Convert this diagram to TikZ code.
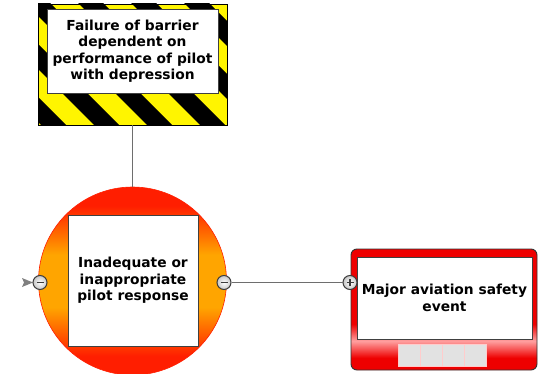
\documentclass[tikz,border=0pt]{standalone}
\usepackage{fontspec}
\setmainfont{DejaVu Sans}

\definecolor{hzyellow}{HTML}{FFF500}
\definecolor{circred}{HTML}{FF1E00}
\definecolor{circorange}{HTML}{FFA500}
\definecolor{evred}{HTML}{EE0000}
\definecolor{evpink}{HTML}{FFA0A0}
\definecolor{linegray}{HTML}{6E6E6E}
\definecolor{markergray}{HTML}{3C3C3C}
\definecolor{cellgray}{HTML}{E2E2E2}

% red frame with a pale glow just under the inner panel
\pgfdeclareverticalshading{eventshade}{100bp}{color(0bp)=(evred); color(30bp)=(evred); color(37bp)=(evpink); color(44bp)=(evred); color(100bp)=(evred)}
% red rim at top and bottom, orange band across the middle
\pgfdeclareverticalshading{threatshade}{100bp}{color(0bp)=(circred); color(30bp)=(circred); color(43bp)=(circorange); color(57bp)=(circorange); color(70bp)=(circred); color(100bp)=(circred)}

\tikzset{
  conn/.style={draw=linegray, line width=1.9pt},
  lbl/.style={font=\bfseries\fontsize{13.8}{16.5}\selectfont, align=center, text=black},
  panel/.style={rectangle, fill=white, draw=black!75, line width=0.8pt, inner sep=2pt},
  marker/.style={circle, minimum size=14pt, inner sep=0pt, draw=markergray, line width=1pt,
    inner color=white, outer color=black!22},
  minusmark/.style={marker, path picture={
    \draw[line width=1.1pt, markergray] ([xshift=-3.5pt]path picture bounding box.center) -- ([xshift=3.5pt]path picture bounding box.center);}},
  plusmark/.style={marker, path picture={
    \draw[line width=1.1pt, markergray] ([xshift=-3.5pt]path picture bounding box.center) -- ([xshift=3.5pt]path picture bounding box.center);
    \draw[line width=1.1pt, markergray] ([yshift=-3.5pt]path picture bounding box.center) -- ([yshift=3.5pt]path picture bounding box.center);}},
  cellbox/.style={rectangle, minimum width=22pt, minimum height=22pt, inner sep=0pt, fill=cellgray, draw=white!80!red, line width=0.6pt},
}

\begin{document}
\begin{tikzpicture}[x=1pt, y=-1pt]
\useasboundingbox (0,0) rectangle (538,374);

% hazard-striped barrier frame
\begin{scope}
  \clip (38,4) rectangle (227,125);
  \fill[hzyellow] (38,4) rectangle (227,125);
  \foreach \k in {-3,...,4}
    \fill[black] ({22+53*\k},0) -- ({47+53*\k},0) -- ({177+53*\k},130) -- ({152+53*\k},130) -- cycle;
\end{scope}
\node[rectangle, draw=black, line width=0.9pt, minimum width=189pt, minimum height=121pt] (barrier) at (132.5,64.5) {};
\node[panel, minimum width=171pt, minimum height=84pt, lbl] (barriertext) at (132.5,51)
  {Failure of barrier\\dependent on\\performance of pilot\\with depression};

% threat circle with the cause panel
\node[circle, minimum size=188pt, inner sep=0pt, draw=circred, line width=0.6pt,
      shading=threatshade] (circ) at (132.5,281) {};
\node[panel, minimum width=130pt, minimum height=131pt, lbl] (cause) at (133,280.5)
  {Inadequate or\\inappropriate\\pilot response};

% consequence box
\node[rectangle, rounded corners=6pt, minimum width=186pt, minimum height=121pt, draw=black!80,
      line width=0.9pt, shading=eventshade] (event) at (444,309.5) {};
\node[panel, minimum width=175pt, minimum height=82pt, lbl] (eventtext) at (444.5,298)
  {Major aviation safety\\event};
\node[cellbox] (cell1) at (409,355) {};
\node[cellbox] (cell2) at (431,355) {};
\node[cellbox] (cell3) at (453,355) {};
\node[cellbox] (cell4) at (475,355) {};

% connectors
\draw[conn] (barrier.south) -- (circ.north);
\coordinate (inL) at (22,282.5);
\fill[black!50] (inL) ++(0,-4.5) -- ++(11,4.5) -- ++(-11,4.5) -- ++(2,-4.5) -- cycle;
\node[minusmark] (mL) at (40,282.5) {};
\node[minusmark] (mR) at (224,282.5) {};
\node[plusmark] (mP) at (350,282.5) {};
\draw[conn] (mR.east) -- (mP.west);
\end{tikzpicture}
\end{document}
